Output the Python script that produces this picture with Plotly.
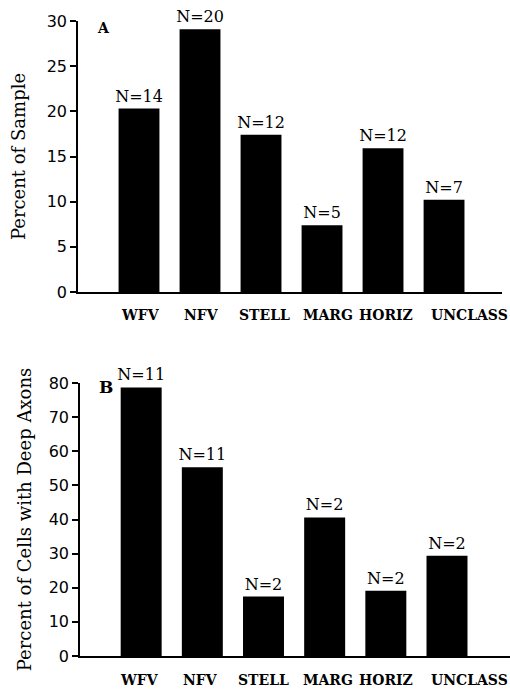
import plotly.graph_objects as go

categories = ["WFV", "NFV", "STELL", "MARG", "HORIZ", "UNCLASS"]
pct_sample = [20.3, 29.1, 17.4, 7.4, 15.9, 10.2]
n_sample = [14, 20, 12, 5, 12, 7]
pct_deep = [78.7, 55.3, 17.4, 40.6, 19.1, 29.4]
n_deep = [11, 11, 2, 2, 2, 2]
ticks_a = [0, 5, 10, 15, 20, 25, 30]
ticks_b = [0, 10, 20, 30, 40, 50, 60, 70, 80]

# style: horizontal pixel nudges of the category labels, as in the original
label_nudge = [1, 1, 3, 6, 3, 25]

SERIF = "DejaVu Serif"
SANS = "DejaVu Sans"
W, H = 510, 689

fig = go.Figure()
for ys, ns, xa, ya in [(pct_sample, n_sample, "x", "y"), (pct_deep, n_deep, "x2", "y2")]:
    fig.add_trace(go.Bar(
        x=categories, y=ys, xaxis=xa, yaxis=ya,
        marker=dict(color="black", line=dict(width=0)), width=0.67,
        text=[f"N={n}" for n in ns], textposition="outside", constraintext="none",
        textfont=dict(family=SERIF, size=16, color="black"), cliponaxis=False,
        hoverinfo="skip", showlegend=False))

xcommon = dict(type="category", showline=True, linecolor="black", linewidth=1.5,
               ticks="", showgrid=False, zeroline=False, showticklabels=False,
               automargin=False)
ycommon = dict(showline=True, linecolor="black", linewidth=1.5, ticks="outside",
               ticklen=6, tickwidth=1.5, tickcolor="black", showgrid=False,
               zeroline=False, automargin=False,
               tickfont=dict(family=SANS, size=16, color="black"))

annotations = [
    dict(text="<b>A</b>", x=0.059, y=0.974, xref="x domain", yref="y domain",
         xanchor="center", yanchor="middle", showarrow=False,
         font=dict(family=SERIF, size=14, color="black")),
    dict(text="<b>B</b>", x=0.06, y=0.985, xref="x2 domain", yref="y2 domain",
         xanchor="center", yanchor="middle", showarrow=False,
         font=dict(family=SERIF, size=17, color="black")),
]
for xa, ya, ysh, dx in [("x", "y", -23, 0), ("x2", "y2", -24, -3)]:
    for c, nud in zip(categories, label_nudge):
        annotations.append(dict(
            text=f"<b>{c}</b>", x=c, y=0, xref=xa, yref=ya, showarrow=False,
            xshift=nud + dx, yshift=ysh, yanchor="middle",
            font=dict(family=SERIF, size=14, color="black")))

fig.update_layout(
    width=W, height=H, margin=dict(l=0, r=0, t=0, b=0),
    plot_bgcolor="white", paper_bgcolor="white", bargap=0.33,
    hovermode=False,
    xaxis=dict(xcommon, domain=[78 / W, 502 / W], range=[-1.0, 5.95], anchor="y"),
    yaxis=dict(ycommon, domain=[1 - 292 / H, 1 - 21 / H], range=[0, 30],
               tickvals=ticks_a, anchor="x",
               title=dict(text="Percent of Sample", standoff=16,
                          font=dict(family=SERIF, size=18, color="black"))),
    xaxis2=dict(xcommon, domain=[80 / W, 1.0], range=[-1.0, 6.03], anchor="y2"),
    yaxis2=dict(ycommon, domain=[1 - 656 / H, 1 - 383 / H], range=[0, 80],
                tickvals=ticks_b, anchor="x2",
                title=dict(text="Percent of Cells with Deep Axons", standoff=12,
                           font=dict(family=SERIF, size=18, color="black"))),
    annotations=annotations,
)

fig.write_html("out.html", config={"displayModeBar": False},
               post_script="document.body.style.margin='0';document.body.style.overflow='hidden';")
